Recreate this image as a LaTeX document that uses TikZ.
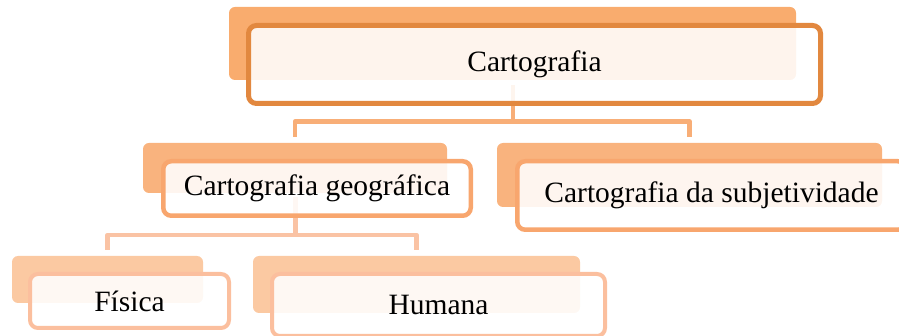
\documentclass[tikz,border=0pt]{standalone}
\usepackage{fontspec}
\setmainfont{Liberation Serif}
\usetikzlibrary{calc}
\definecolor{bkA}{HTML}{F9AC6E}
\definecolor{bdA}{HTML}{E2883F}
\definecolor{cnA}{HTML}{F8AE77}
\definecolor{bkB}{HTML}{F9B37E}
\definecolor{bdB}{HTML}{F8A66E}
\definecolor{cnB}{HTML}{FAC3A4}
\definecolor{bkC}{HTML}{FBC9A2}
\definecolor{bdC}{HTML}{FBBF9E}
\tikzset{
  backbox/.style={rectangle, rounded corners=6pt, inner sep=0pt, draw=none},
  frontbox/.style={rectangle, rounded corners=8pt, inner sep=0pt, fill=white, fill opacity=0.88, text opacity=1,
     font=\fontsize{29.5}{32}\selectfont, text=black},
  conn/.style={line width=4.7pt, line join=round, line cap=butt},
}
\begin{document}
\begin{tikzpicture}[x=1pt,y=-1pt]
\useasboundingbox (0,0) rectangle (899,336);
\clip (0,0) rectangle (899,336);
% back boxes
\node[backbox, fill=bkA, minimum width=567pt, minimum height=73pt] (L1b) at (512.5,43.5) {};
\node[backbox, fill=bkB, minimum width=304pt, minimum height=50pt] (L2ab) at (295,168) {};
\node[backbox, fill=bkB, minimum width=385pt, minimum height=64pt] (L2bb) at (689.5,175) {};
\node[backbox, fill=bkC, minimum width=191pt, minimum height=47pt] (L3ab) at (107.5,279.5) {};
\node[backbox, fill=bkC, minimum width=327pt, minimum height=57pt] (L3bb) at (416.5,284.5) {};
% connectors
\coordinate (j1) at (513,85);
\coordinate (m1) at (513,121.5);
\draw[conn, cnA] (j1) -- (m1);
\draw[conn, cnA] ($(L2ab.north)+(0,-6)$) |- (m1) -| ($(L2bb.north)+(0,-6)$);
\coordinate (j2) at (295.5,197);
\coordinate (m2) at (295.5,235);
\draw[conn, cnB] (j2) -- (m2);
\draw[conn, cnB] ($(L3ab.north)+(0,-6)$) |- (m2) -| ($(L3bb.north)+(0,-6)$);
% front boxes
\node[frontbox, draw=bdA, line width=5pt, minimum width=572pt, minimum height=78pt] (L1f) at (534.5,64.5) {Cartografia};
\node[frontbox, draw=bdB, line width=4.5pt, minimum width=307.5pt, minimum height=54.5pt] (L2af) at (317,188.5) {Cartografia geográfica};
\node[frontbox, draw=bdB, line width=4.5pt, minimum width=388.5pt, minimum height=68.5pt] (L2bf) at (711.5,195.5) {Cartografia da subjetividade};
\node[frontbox, draw=bdC, line width=4pt, minimum width=199pt, minimum height=54pt] (L3af) at (129.5,301) {Física};
\node[frontbox, draw=bdC, line width=4pt, minimum width=333pt, minimum height=62pt] (L3bf) at (438.5,305) {Humana};
\end{tikzpicture}
\end{document}
